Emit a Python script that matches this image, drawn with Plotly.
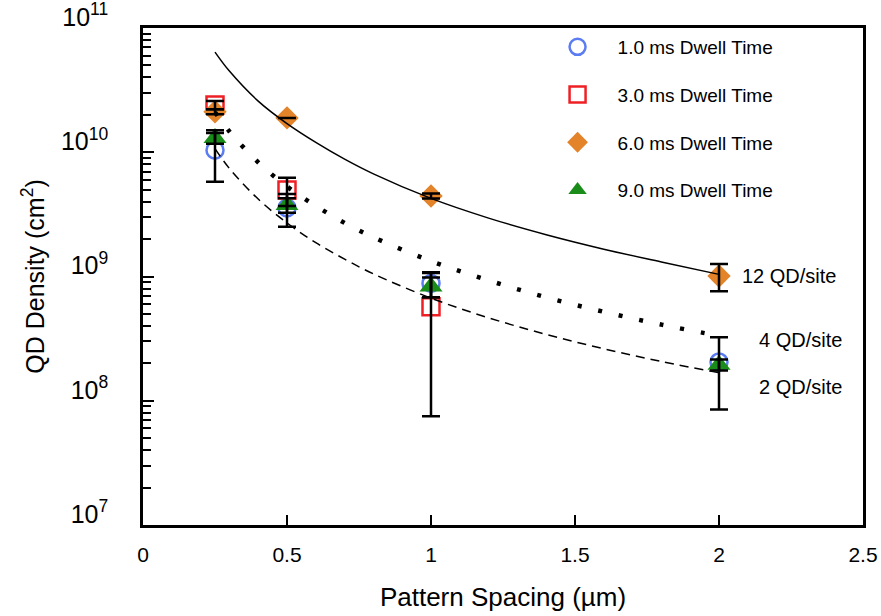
import plotly.graph_objects as go

# ---- data ----
spacing = [0.25, 0.5, 1.0, 2.0]
spacing_3ms = [0.25, 0.5, 1.0]

dens_1ms = [1.04e10, 3.56e9, 8.8e8, 2.05e8]
err_1ms = [4.6e9, 1.05e9, 2.0e8, 1.2e8]

dens_3ms = [2.4e10, 4.97e9, 5.7e8]
err_3ms = [1.8e9, 1.27e9, 4.95e8]

dens_6ms = [2.12e10, 1.89e10, 4.45e9, 1.01e9]
err_6ms = [1.0e9, 0.0, 2.0e8, 2.5e8]

dens_9ms = [1.30e10, 3.76e9, 8.3e8, 1.95e8]
err_9ms = [1.3e9, 5.0e8, 1.5e8, 2.0e7]

fit_x = [0.25, 0.3, 0.4, 0.5, 0.6, 0.7, 0.8, 1.0, 1.2, 1.4, 1.6, 1.8, 2.0]
fit_12 = [6.4e10, 4.5e10, 2.58e10, 1.70e10, 1.2e10, 8.8e9, 6.7e9, 4.25e9,
          2.95e9, 2.17e9, 1.66e9, 1.31e9, 1.04e9]
fit_4 = [2.1e10, 1.47e10, 8.3e9, 5.3e9, 3.7e9, 2.7e9, 2.07e9, 1.33e9,
         9.3e8, 6.8e8, 5.2e8, 4.1e8, 3.33e8]
fit_2 = [1.07e10, 7.4e9, 4.2e9, 2.7e9, 1.87e9, 1.38e9, 1.05e9, 6.7e8,
         4.65e8, 3.42e8, 2.62e8, 2.07e8, 1.68e8]

series_names = ["1.0 ms Dwell Time", "3.0 ms Dwell Time",
                "6.0 ms Dwell Time", "9.0 ms Dwell Time"]
fit_labels = ["12 QD/site", "4 QD/site", "2 QD/site"]
fit_label_pos = [(2.072, 9.004), (2.131, 8.489), (2.131, 8.111)]

FONT = "Liberation Sans, Arial, Helvetica, sans-serif"

fig = go.Figure()

marker_specs = [
    (spacing, dens_1ms, dict(symbol="circle-open", size=17, color="#5b7cf2", line=dict(width=2.5, color="#5b7cf2"))),
    (spacing_3ms, dens_3ms, dict(symbol="square-open", size=17, color="#ee2026", line=dict(width=2.5, color="#ee2026"))),
    (spacing, dens_6ms, dict(symbol="diamond", size=18, color="#e3832a", line=dict(width=0))),
    (spacing, dens_9ms, dict(symbol="triangle-up", size=20, color="#1a8c1a", line=dict(width=0))),
]
for i, ((xs, ys, mk), name) in enumerate(zip(marker_specs, series_names)):
    fig.add_trace(go.Scatter(x=xs, y=ys, mode="markers", name=name, marker=mk,
                             legendgroup=f"g{i}", showlegend=True))

# error bars on top of markers
for xs, ys, es in [(spacing, dens_1ms, err_1ms), (spacing_3ms, dens_3ms, err_3ms),
                   (spacing, dens_6ms, err_6ms), (spacing, dens_9ms, err_9ms)]:
    fig.add_trace(go.Scatter(
        x=xs, y=ys, mode="markers", showlegend=False, hoverinfo="skip",
        marker=dict(size=1, color="rgba(0,0,0,0)"),
        error_y=dict(type="data", array=es, visible=True, color="black",
                     thickness=2.5, width=9)))

# fit curves
fig.add_trace(go.Scatter(x=fit_x, y=fit_12, mode="lines", showlegend=False,
                         line=dict(color="black", width=1.5, shape="spline")))
fig.add_trace(go.Scatter(x=fit_x, y=fit_4, mode="lines", showlegend=False,
                         line=dict(color="black", width=4.5, dash="4px,17px", shape="spline")))
fig.add_trace(go.Scatter(x=fit_x, y=fit_2, mode="lines", showlegend=False,
                         line=dict(color="black", width=1.5, dash="9px,6px", shape="spline")))

for txt, (ax, ay) in zip(fit_labels, fit_label_pos):
    fig.add_annotation(x=ax, y=ay, text=txt, showarrow=False, xanchor="left",
                       yanchor="middle", font=dict(size=20, color="black", family=FONT))

fig.update_layout(
    width=881, height=616,
    margin=dict(l=143, r=18, t=28, b=91),
    paper_bgcolor="white", plot_bgcolor="white",
    font=dict(family=FONT, color="black", size=19),
    legend=dict(x=0.548, y=1.0, xanchor="left", yanchor="top",
                bgcolor="rgba(0,0,0,0)", borderwidth=0,
                font=dict(size=19, family=FONT),
                traceorder="grouped", tracegroupgap=20, itemwidth=70),
)
fig.update_xaxes(
    range=[0, 2.5], dtick=0.5, tick0=0, showgrid=False, zeroline=False,
    showline=True, linewidth=2.5, linecolor="black", mirror=True,
    ticks="inside", ticklen=10, tickwidth=2, tickcolor="black",
    tickfont=dict(size=21), ticklabelstandoff=9, automargin=False,
    title=dict(text="Pattern Spacing (µm)", font=dict(size=26), standoff=23),
)
fig.update_yaxes(
    type="log", range=[7, 11], dtick=1, exponentformat="power",
    showgrid=False, zeroline=False,
    showline=True, linewidth=2.5, linecolor="black", mirror=True,
    ticks="inside", ticklen=11, tickwidth=2, tickcolor="black",
    minor=dict(dtick="D1", ticks="inside", ticklen=8, tickwidth=2, tickcolor="black", showgrid=False),
    tickfont=dict(size=20), ticklabelstandoff=28, ticklabelshift=-11,
    ticklabeloverflow="allow", automargin=False,
    title=dict(text="QD Density (cm<sup>2</sup>)", font=dict(size=25), standoff=10),
)

fig.write_html("out.html", config={"displayModeBar": False},
               post_script="document.body.style.margin='0px';")
